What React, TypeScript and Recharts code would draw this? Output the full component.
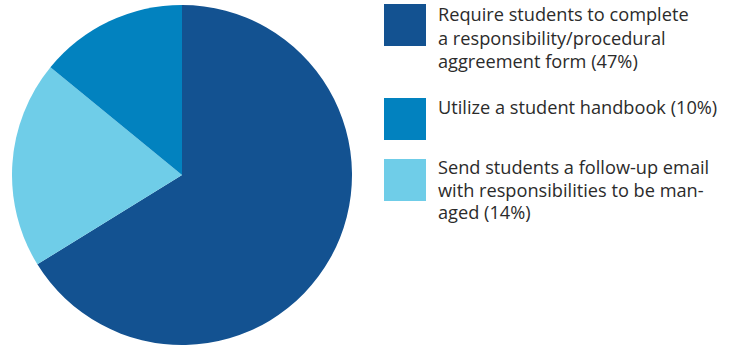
import { PieChart, Pie, Cell, Legend } from 'recharts';

const labels = [
  'Require students to complete a responsibility/procedural aggreement form (47%)',
  'Send students a follow-up email with responsibilities to be man-aged (14%)',
  'Utilize a student handbook (10%)',
];
const values = [47, 14, 10];
const colors = ['#135291', '#6fcde8', '#0282bf'];

// legend reads top to bottom in this order (index into the arrays above)
const legendOrder = [0, 2, 1];
const legendLines = [
  ['Require students to complete', 'a responsibility/procedural', 'aggreement form (47%)'],
  ['Send students a follow-up email', 'with responsibilities to be man-', 'aged (14%)'],
  ['Utilize a student handbook (10%)'],
];
const swatchTops = [4, 98, 159];
const textTops = [3, 96, 156];
const lineGaps = [23.5, 22.5, 22.5];

const data = labels.map((name, i) => ({ name, value: values[i] }));

function LegendBox() {
  return (
    <div style={{ position: 'relative', width: 357, height: 220 }}>
      {legendOrder.map((idx, row) => (
        <div key={idx}>
          <div
            style={{
              position: 'absolute',
              left: 0,
              top: swatchTops[row] - 4,
              width: 42,
              height: 42,
              background: colors[idx],
            }}
          />
          <div
            style={{
              position: 'absolute',
              left: 54,
              top: textTops[row] - 4,
              fontFamily: '"Open Sans", sans-serif',
              fontSize: 18.2,
              lineHeight: `${lineGaps[idx]}px`,
              color: '#2b2b2b',
              whiteSpace: 'nowrap',
              textAlign: 'left',
            }}
          >
            {legendLines[idx].map((line) => (
              <div key={line}>{line}</div>
            ))}
          </div>
        </div>
      ))}
    </div>
  );
}

export default function App() {
  return (
    <div style={{ position: 'absolute', left: 0, top: 0, width: 741, height: 347, background: '#fff' }}>
      <PieChart width={741} height={347} margin={{ top: 0, right: 0, bottom: 0, left: 0 }}>
        <Pie
          data={data}
          dataKey="value"
          nameKey="name"
          cx={182}
          cy={175}
          outerRadius={170}
          startAngle={90}
          endAngle={-270}
          stroke="none"
          isAnimationActive={false}
        >
          {data.map((d, i) => (
            <Cell key={d.name} fill={colors[i]} />
          ))}
        </Pie>
        <Legend
          layout="vertical"
          align="right"
          verticalAlign="top"
          content={() => <LegendBox />}
          wrapperStyle={{ left: 384, top: 4, width: 357 }}
        />
      </PieChart>
    </div>
  );
}
